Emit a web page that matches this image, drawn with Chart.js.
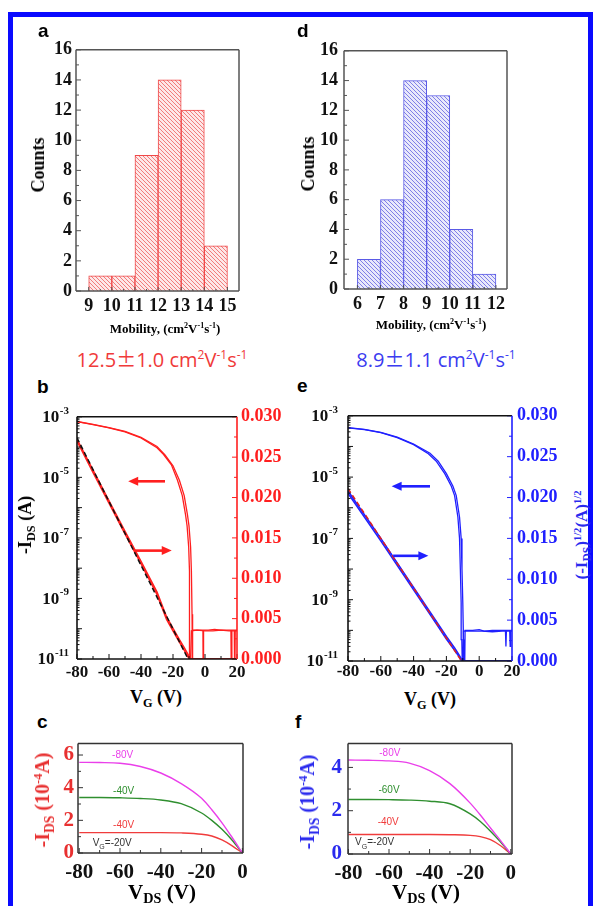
<!DOCTYPE html>
<html lang="pt">
<head>
<meta charset="utf-8">
<title>Mobilidade e curvas de transferencia</title>
<script src="https://cdn.jsdelivr.net/npm/chart.js@4.4.1/dist/chart.umd.min.js"></script>
<style>
  body { margin:0; width:595px; height:906px; position:relative; overflow:hidden; background:#fff; }
  #borda { position:absolute; left:8px; top:12px; width:575px; height:930px; border:5px solid #0a0aff; }
  canvas { position:absolute; }
  .txt { position:absolute; font-family:"Liberation Serif",serif; font-weight:bold; white-space:nowrap; line-height:1; }
  .rot { transform:translate(-50%,-50%) rotate(-90deg); }
  .cen { transform:translate(-50%,-50%); }
  .txt sub { font-size:0.68em; vertical-align:-0.35em; line-height:0; }
  .txt sup { font-size:0.62em; vertical-align:0.55em; line-height:0; }
  .letra { position:absolute; font-family:"Liberation Sans",sans-serif; font-weight:bold; font-size:19px; line-height:1; }
  .mob { position:absolute; font-family:"Open Sans",sans-serif; font-size:20px; white-space:nowrap; transform:translate(-50%,-50%); line-height:1; }
  .mob sup { font-size:0.6em; vertical-align:0.6em; line-height:0; }
  .pm { font-family:"Noto Sans CJK SC",sans-serif; }
</style>
</head>
<body>
<div id="borda"></div>

<canvas id="grafA"></canvas>
<canvas id="grafD"></canvas>
<canvas id="grafB"></canvas>
<canvas id="grafE"></canvas>
<canvas id="grafC"></canvas>
<canvas id="grafF"></canvas>

<div class="letra" style="left:38px;top:21px">a</div>
<div class="letra" style="left:297px;top:21px">d</div>
<div class="letra" style="left:37px;top:377px">b</div>
<div class="letra" style="left:297px;top:376px">e</div>
<div class="letra" style="left:37px;top:712px">c</div>
<div class="letra" style="left:295px;top:712px">f</div>

<div class="txt rot" style="left:38px;top:165px;font-size:18px">Counts</div>
<div class="txt cen" style="left:165px;top:328px;font-size:13px">Mobility, (cm<sup>2</sup>V<sup>-1</sup>s<sup>-1</sup>)</div>
<div class="txt rot" style="left:308px;top:164px;font-size:18px">Counts</div>
<div class="txt cen" style="left:431px;top:324px;font-size:13px">Mobility, (cm<sup>2</sup>V<sup>-1</sup>s<sup>-1</sup>)</div>

<div class="mob" style="left:162px;top:359px;color:#f03a3a">12.5<span class="pm">±</span>1.0 cm<sup>2</sup>V<sup>-1</sup>s<sup>-1</sup></div>
<div class="mob" style="left:436px;top:359px;color:#3b3bf0">8.9<span class="pm">±</span>1.1 cm<sup>2</sup>V<sup>-1</sup>s<sup>-1</sup></div>

<div class="txt rot" style="left:25px;top:525px;font-size:18px">-I<sub>DS</sub> (A)</div>
<div class="txt cen" style="left:156px;top:697px;font-size:18px">V<sub>G</sub> (V)</div>
<div class="txt rot" style="left:581px;top:535px;font-size:17px;color:#2a2aee">(-I<sub>DS</sub>)<sup>1/2</sup>(A)<sup>1/2</sup></div>
<div class="txt cen" style="left:430px;top:699px;font-size:18px">V<sub>G</sub> (V)</div>

<div class="txt rot" style="left:42px;top:800px;font-size:20px;color:#e83030">-I<sub>DS</sub> (10<sup>-4</sup>A)</div>
<div class="txt cen" style="left:162px;top:892px;font-size:21px">V<sub>DS</sub> (V)</div>
<div class="txt rot" style="left:307px;top:802px;font-size:20px;color:#2a2aee">-I<sub>DS</sub> (10<sup>-4</sup>A)</div>
<div class="txt cen" style="left:426px;top:892px;font-size:21px">V<sub>DS</sub> (V)</div>

<script>
// ---- histogramas (a e d) ----
const ticksXA = [9, 10, 11, 12, 13, 14, 15];
const binsA = [9, 10, 11, 12, 13, 14];
const contagensA = [1, 1, 9, 14, 12, 3];

const ticksXD = [6, 7, 8, 9, 10, 11, 12];
const binsD = [6, 7, 8, 9, 10, 11];
const contagensD = [2, 6, 14, 13, 4, 1];

// ---- curvas de transferencia (b, vermelho) ----
const vgB_ida = [-80, -70, -60, -50, -40, -30, -25, -20, -16, -13, -11, -10, -9, -8.5, -8.1, -7.9, -7.6, -5, -2, -1.3, -1.1, -0.9, 2, 6, 10, 14, 16.2, 16.5, 16.8, 18.3, 18.6, 18.9, 20];
const idsB_ida = [7.0e-4, 5.6e-4, 4.4e-4, 3.3e-4, 2.1e-4, 1.05e-4, 5.5e-5, 2.4e-5, 8e-6, 2.5e-6, 6e-7, 2.5e-7, 5e-8, 8e-9, 3e-10, 1e-12, 9e-11, 9e-11, 9e-11, 9e-11, 1e-12, 9e-11, 9e-11, 9.5e-11, 9e-11, 9e-11, 9e-11, 1e-12, 9e-11, 9e-11, 1e-12, 9e-11, 9e-11];
const vgB_volta = [20, 15, 10, 5, 0, -5, -8.5, -9.4, -9.7, -10.2, -11.2, -12.2, -14.2, -17.2, -21, -26, -30, -40, -50, -60, -70, -80];
const idsB_volta = [8.5e-11, 8.5e-11, 9e-11, 8.5e-11, 8.5e-11, 9e-11, 8.5e-11, 1e-12, 8e-9, 5e-8, 2.5e-7, 6e-7, 2.5e-6, 8e-6, 2.6e-5, 5.8e-5, 9.5e-5, 2.0e-4, 3.2e-4, 4.3e-4, 5.5e-4, 6.9e-4];
const vgB_raiz = [-80, -70, -60, -50, -40, -30, -24, -20, -16, -13, -11, -10, -9.3, -8, 20];
const raizB_ida = [0.0272, 0.0234, 0.0196, 0.0158, 0.0121, 0.0083, 0.0052, 0.0038, 0.0024, 0.0014, 0.0007, 0.0003, 0, 0, 0];
const raizB_volta = [0.0270, 0.0231, 0.0193, 0.0155, 0.0118, 0.0080, 0.0049, 0.0035, 0.0021, 0.0011, 0.0004, 0.0001, 0, 0, 0];
const vgB_ajuste = [-80, -10.6];
const raizB_ajuste = [0.0274, 0];

// ---- curvas de transferencia (e, azul) ----
const vgE_ida = [-80, -70, -60, -50, -40, -30, -25, -20, -16, -14, -12, -11, -10.5, -10, -9.6, -9.3, -9, -8.6, -4, 0, 3, 8, 12, 16, 16.3, 16.6, 18.6, 18.9, 19.2, 20];
const idsE_ida = [4.1e-4, 3.6e-4, 2.9e-4, 2.0e-4, 1.2e-4, 6e-5, 3.3e-5, 1.3e-5, 5e-6, 2.5e-6, 5e-7, 1e-7, 1e-8, 8e-10, 5e-11, 1e-12, 1e-12, 1e-10, 1e-10, 1.05e-10, 9.5e-11, 1e-10, 1e-10, 1e-10, 3e-11, 1e-10, 1e-10, 3e-11, 1e-10, 1e-10];
const vgE_volta = [20, 14, 8, 2, -4, -9.6, -10, -10.6, -11, -11.5, -12, -13, -15, -17, -21, -26, -31, -40, -50, -60, -70, -80];
const idsE_volta = [9.5e-11, 9.5e-11, 9e-11, 9.5e-11, 9.5e-11, 9.5e-11, 1e-12, 5e-11, 8e-10, 1e-8, 1e-7, 5e-7, 2.5e-6, 5e-6, 1.3e-5, 3.2e-5, 5.8e-5, 1.15e-4, 1.95e-4, 2.85e-4, 3.55e-4, 4.05e-4];
const vgE_raiz = [-80, -70, -60, -50, -40, -30, -25, -20, -15, -12.5, -11, -10.3, 20];
const raizE_ida = [0.0208, 0.0179, 0.0150, 0.0120, 0.0090, 0.0060, 0.0045, 0.0030, 0.0016, 0.0008, 0.0003, 0, 0];
const raizE_volta = [0.0205, 0.0176, 0.0147, 0.0117, 0.0087, 0.0057, 0.0042, 0.0027, 0.0013, 0.0006, 0.0001, 0, 0];
const vgE_ajuste = [-80, -10.8];
const raizE_ajuste = [0.0211, 0];

// ---- curvas de saida (c e f) ----
const vdsSaida = [-80, -70, -60, -50, -40, -30, -20, -15, -10, -5, 0];
const saidaC_80 = [5.55, 5.54, 5.50, 5.30, 4.90, 4.25, 3.35, 2.65, 1.85, 0.95, 0];
const saidaC_verde = [3.40, 3.40, 3.38, 3.34, 3.25, 3.02, 2.45, 2.00, 1.45, 0.78, 0];
const saidaC_40 = [1.25, 1.25, 1.25, 1.25, 1.25, 1.23, 1.15, 1.04, 0.80, 0.44, 0];
const saidaF_80 = [4.34, 4.33, 4.30, 4.20, 3.85, 3.25, 2.35, 1.80, 1.20, 0.62, 0];
const saidaF_60 = [2.52, 2.52, 2.51, 2.49, 2.44, 2.32, 1.85, 1.50, 1.05, 0.55, 0];
const saidaF_40 = [0.90, 0.90, 0.90, 0.90, 0.90, 0.89, 0.86, 0.80, 0.66, 0.38, 0];

const ticksVG = [-80, -60, -40, -20, 0, 20];
const ticksVDS = [-80, -60, -40, -20, 0];
const ticksYC = [0, 2, 4, 6];
const ticksYF = [0, 2, 4];

Chart.defaults.font.family = '"Liberation Serif", serif';
Chart.defaults.font.weight = 'bold';
Chart.defaults.color = '#111';

function juntar(xs, ys) {
  return xs.map((x, i) => ({ x: x, y: ys[i] }));
}

function prepararCanvas(id, area, m) {
  const cv = document.getElementById(id);
  cv.width = area[2] - area[0] + m.l + m.r;
  cv.height = area[3] - area[1] + m.t + m.b;
  cv.style.left = (area[0] - m.l) + 'px';
  cv.style.top = (area[1] - m.t) + 'px';
  return cv;
}

function hachura(ctx, fundo, traco) {
  const t = document.createElement('canvas');
  t.width = 4; t.height = 4;
  const c = t.getContext('2d');
  c.fillStyle = fundo;
  c.fillRect(0, 0, 4, 4);
  c.strokeStyle = traco;
  c.lineWidth = 0.9;
  for (const k of [-4, 0, 4]) {
    c.beginPath(); c.moveTo(k, 0); c.lineTo(k + 4, 4); c.stroke();
  }
  return ctx.createPattern(t, 'repeat');
}

const semGrade = { display: false, drawTicks: false };

// moldura, marcas para dentro, rotulos de log, setas e nomes das curvas
const pluginEixos = {
  id: 'eixos',
  afterDatasetsDraw(chart, args, op) {
    const ctx = chart.ctx, a = chart.chartArea;
    ctx.save();
    ctx.lineWidth = 1;
    for (const id in op.marcas) {
      const m = op.marcas[id], s = chart.scales[id];
      const maiores = s.ticks.map(t => t.value);
      const menores = [];
      if (s.type === 'logarithmic') {
        for (let e = Math.round(Math.log10(s.min)); e < Math.round(Math.log10(s.max)); e++)
          for (let k = 2; k < 10; k++) menores.push(k * Math.pow(10, e));
      } else {
        for (let i = 0; i < maiores.length - 1; i++) menores.push((maiores[i] + maiores[i + 1]) / 2);
      }
      ctx.strokeStyle = op.cores[s.position] || op.cor;
      const desenha = (v, tam) => {
        const p = s.getPixelForValue(v);
        ctx.beginPath();
        if (s.position === 'left') { ctx.moveTo(a.left, p); ctx.lineTo(a.left + tam, p); }
        else if (s.position === 'right') { ctx.moveTo(a.right, p); ctx.lineTo(a.right - tam, p); }
        else { ctx.moveTo(p, a.bottom); ctx.lineTo(p, a.bottom - tam); }
        ctx.stroke();
      };
      maiores.forEach(v => desenha(v, m.maior));
      menores.forEach(v => desenha(v, m.menor));
    }

    ctx.lineWidth = op.espessura;
    const lados = {
      top: [a.left, a.top, a.right, a.top],
      bottom: [a.left, a.bottom, a.right, a.bottom],
      left: [a.left, a.top, a.left, a.bottom],
      right: [a.right, a.top, a.right, a.bottom]
    };
    for (const lado in lados) {
      const [x1, y1, x2, y2] = lados[lado];
      ctx.strokeStyle = op.cores[lado] || op.cor;
      ctx.beginPath(); ctx.moveTo(x1, y1); ctx.lineTo(x2, y2); ctx.stroke();
    }

    if (op.rotulosLog) {
      const s = chart.scales.y;
      ctx.fillStyle = '#111';
      ctx.textAlign = 'right';
      ctx.textBaseline = 'middle';
      for (const e of op.rotulosLog.expoentes) {
        const p = s.getPixelForValue(Math.pow(10, e));
        ctx.font = 'bold 11px "Liberation Serif"';
        const w = ctx.measureText(String(e)).width;
        ctx.fillText(String(e), a.left - op.rotulosLog.folga, p - 6);
        ctx.font = 'bold 17px "Liberation Serif"';
        ctx.fillText('10', a.left - op.rotulosLog.folga - w - 0.5, p + 1);
      }
    }

    if (op.setas) {
      const sx = chart.scales.x, sy = chart.scales.y;
      ctx.strokeStyle = op.corSeta;
      ctx.fillStyle = op.corSeta;
      ctx.lineWidth = 2.6;
      for (const st of op.setas) {
        const x1 = sx.getPixelForValue(st.de[0]), y1 = sy.getPixelForValue(st.de[1]);
        const x2 = sx.getPixelForValue(st.para[0]), y2 = sy.getPixelForValue(st.para[1]);
        const dir = Math.sign(x2 - x1);
        ctx.beginPath(); ctx.moveTo(x1, y1); ctx.lineTo(x2 - dir * 7, y2); ctx.stroke();
        ctx.beginPath();
        ctx.moveTo(x2, y2); ctx.lineTo(x2 - dir * 10, y2 - 4.5); ctx.lineTo(x2 - dir * 10, y2 + 4.5);
        ctx.closePath(); ctx.fill();
      }
    }

    if (op.nomes) {
      const sx = chart.scales.x, sy = chart.scales.y;
      ctx.textBaseline = 'middle';
      for (const n of op.nomes) {
        let x = sx.getPixelForValue(n.x);
        const y = sy.getPixelForValue(n.y);
        ctx.fillStyle = n.cor;
        if (n.partes) {
          ctx.textAlign = 'left';
          for (const pt of n.partes) {
            ctx.font = (pt.sub ? '7px' : '10px') + ' "Liberation Sans"';
            ctx.fillText(pt.t, x, pt.sub ? y + 4 : y);
            x += ctx.measureText(pt.t).width;
          }
        } else {
          ctx.textAlign = 'center';
          ctx.font = '10px "Liberation Sans"';
          ctx.fillText(n.texto, x, y);
        }
      }
    }
    ctx.restore();
  }
};

function fixarEixos(scales, m) {
  scales.x.afterFit = s => { s.height = m.b; };
  scales.y.afterFit = s => { s.width = m.l; };
  if (scales.y2) scales.y2.afterFit = s => { s.width = m.r; };
  return scales;
}

function histograma(id, area, m, bins, contagens, ticksX, limites, fundo, traco, borda, padY) {
  const cv = prepararCanvas(id, area, m);
  const ctx = cv.getContext('2d');
  new Chart(ctx, {
    type: 'bar',
    data: {
      datasets: [{
        data: juntar(bins.map(b => b + 0.5), contagens),
        backgroundColor: hachura(ctx, fundo, traco),
        borderColor: borda,
        borderWidth: 1,
        barPercentage: 1,
        categoryPercentage: 1
      }]
    },
    options: {
      responsive: false,
      animation: false,
      layout: { padding: { top: m.t, right: m.r, left: 0, bottom: 0 } },
      plugins: {
        legend: { display: false },
        tooltip: { enabled: false },
        eixos: { cor: '#555', cores: {}, espessura: 1.5, marcas: { x: { maior: 4, menor: 2 }, y: { maior: 5, menor: 3 } } }
      },
      scales: fixarEixos({
        x: {
          type: 'linear', min: limites[0], max: limites[1], offset: false,
          afterBuildTicks: s => { s.ticks = ticksX.map(v => ({ value: v })); },
          grid: semGrade, border: { display: false },
          ticks: { font: { size: 18 }, padding: 5, autoSkip: false, maxRotation: 0 }
        },
        y: {
          min: 0, max: 16,
          grid: semGrade, border: { display: false },
          ticks: { stepSize: 2, font: { size: 18 }, padding: padY }
        }
      }, m)
    },
    plugins: [pluginEixos]
  });
}

histograma('grafA', [76, 49, 239, 291], { l: 34, r: 10, t: 14, b: 30 }, binsA, contagensA, ticksXA, [8.45, 15.5],
  '#fde8e8', 'rgba(238,90,90,0.85)', '#f04848', 4);
histograma('grafD', [344, 48, 507, 289], { l: 34, r: 10, t: 14, b: 30 }, binsD, contagensD, ticksXD, [5.42, 12.48],
  '#e9e9fb', 'rgba(95,95,225,0.85)', '#5a5ae6', 6);

function transferencia(id, area, m, cor, corAjuste, series, setas, folgaLog, padX, padY2) {
  const cv = prepararCanvas(id, area, m);
  const ctx = cv.getContext('2d');
  const ds = [
    { data: juntar(series.vgAjuste, series.ajuste), yAxisID: 'y2', borderColor: corAjuste, borderDash: [5, 3], borderWidth: 1.5 },
    { data: juntar(series.vgRaiz, series.raizIda), yAxisID: 'y2', borderColor: cor, borderWidth: 1.6 },
    { data: juntar(series.vgRaiz, series.raizVolta), yAxisID: 'y2', borderColor: cor, borderWidth: 1.6 },
    { data: juntar(series.vgIda, series.ida), yAxisID: 'y', borderColor: cor, borderWidth: 1.3 },
    { data: juntar(series.vgVolta, series.volta), yAxisID: 'y', borderColor: cor, borderWidth: 1.3 }
  ];
  ds.forEach(d => { d.pointRadius = 0; d.fill = false; d.tension = 0; });
  new Chart(ctx, {
    type: 'line',
    data: { datasets: ds },
    options: {
      responsive: false,
      animation: false,
      layout: { padding: { top: m.t, right: 0, left: 0, bottom: 0 } },
      plugins: {
        legend: { display: false },
        tooltip: { enabled: false },
        eixos: {
          cor: '#111', cores: { right: cor }, espessura: 1.6,
          marcas: { x: { maior: 5, menor: 3 }, y: { maior: 5, menor: 2.5 }, y2: { maior: 5, menor: 3 } },
          rotulosLog: { expoentes: [-3, -5, -7, -9, -11], folga: folgaLog },
          setas: setas, corSeta: cor
        }
      },
      scales: fixarEixos({
        x: {
          type: 'linear', min: -80, max: 20,
          afterBuildTicks: s => { s.ticks = ticksVG.map(v => ({ value: v })); },
          grid: semGrade, border: { display: false },
          ticks: { font: { size: 17 }, padding: padX, autoSkip: false, maxRotation: 0 }
        },
        y: {
          type: 'logarithmic', position: 'left', min: 1e-11, max: 1e-3,
          afterBuildTicks: s => { s.ticks = [-11, -10, -9, -8, -7, -6, -5, -4, -3].map(e => ({ value: Math.pow(10, e) })); },
          grid: semGrade, border: { display: false },
          ticks: { display: false }
        },
        y2: {
          type: 'linear', position: 'right', min: 0, max: 0.03,
          grid: semGrade, border: { display: false },
          ticks: { stepSize: 0.005, color: cor, font: { size: 18 }, padding: padY2, callback: v => v.toFixed(3) }
        }
      }, m)
    },
    plugins: [pluginEixos]
  });
}

transferencia('grafB', [77, 416, 237, 659], { l: 45, r: 55, t: 14, b: 25 }, '#ff1f1f', '#111', {
  vgIda: vgB_ida, ida: idsB_ida, vgVolta: vgB_volta, volta: idsB_volta,
  vgRaiz: vgB_raiz, raizIda: raizB_ida, raizVolta: raizB_volta,
  vgAjuste: vgB_ajuste, ajuste: raizB_ajuste
}, [
  { de: [-25, 7.4e-6], para: [-48, 7.4e-6] },
  { de: [-43.7, 3.8e-8], para: [-20.8, 3.8e-8] }
], 8, 3, 4);

transferencia('grafE', [348, 414, 512, 661], { l: 45, r: 55, t: 14, b: 25 }, '#2020ff', '#e02020', {
  vgIda: vgE_ida, ida: idsE_ida, vgVolta: vgE_volta, volta: idsE_volta,
  vgRaiz: vgE_raiz, raizIda: raizE_ida, raizVolta: raizE_volta,
  vgAjuste: vgE_ajuste, ajuste: raizE_ajuste
}, [
  { de: [-30, 5e-6], para: [-53.4, 5e-6] },
  { de: [-52.5, 2.7e-8], para: [-31, 2.7e-8] }
], 10, 0, 5);

function saida(id, area, m, ymax, ticksY, corY, padY, curvas, nomes, limitesX) {
  const cv = prepararCanvas(id, area, m);
  const ctx = cv.getContext('2d');
  new Chart(ctx, {
    type: 'line',
    data: {
      datasets: curvas.map(c => ({
        data: juntar(vdsSaida, c.valores), borderColor: c.cor, borderWidth: 1.4,
        pointRadius: 0, fill: false, cubicInterpolationMode: 'monotone'
      }))
    },
    options: {
      responsive: false,
      animation: false,
      layout: { padding: { top: m.t, right: m.r, left: 0, bottom: 0 } },
      plugins: {
        legend: { display: false },
        tooltip: { enabled: false },
        eixos: {
          cor: '#333', cores: {}, espessura: 1.5,
          marcas: { x: { maior: 5, menor: 3 }, y: { maior: 5, menor: 3 } },
          nomes: nomes
        }
      },
      scales: fixarEixos({
        x: {
          type: 'linear', min: limitesX[0], max: limitesX[1],
          afterBuildTicks: s => { s.ticks = ticksVDS.map(v => ({ value: v })); },
          grid: semGrade, border: { display: false },
          ticks: { font: { size: 21 }, padding: 7, autoSkip: false, maxRotation: 0 }
        },
        y: {
          min: 0, max: ymax,
          afterBuildTicks: s => { s.ticks = ticksY.map(v => ({ value: v })); },
          grid: semGrade, border: { display: false },
          ticks: { color: corY, font: { size: 21 }, padding: padY }
        }
      }, m)
    },
    plugins: [pluginEixos]
  });
}

const rotuloVG = [{ t: 'V' }, { t: 'G', sub: true }, { t: '=-20V' }];

saida('grafC', [78, 739, 243, 853], { l: 30, r: 12, t: 12, b: 34 }, 6.7, ticksYC, '#e83030', 4, [
  { valores: saidaC_80, cor: '#ea3fea' },
  { valores: saidaC_verde, cor: '#2f8f2f' },
  { valores: saidaC_40, cor: '#f03c3c' }
], [
  { texto: '-80V', x: -58.7, y: 6.0, cor: '#ea3fea' },
  { texto: '-40V', x: -58.2, y: 3.79, cor: '#2f8f2f' },
  { texto: '-40V', x: -58.2, y: 1.70, cor: '#f03c3c' },
  { partes: rotuloVG, x: -73.4, y: 0.62, cor: '#333' }
], [-80.6, 0.3]);

saida('grafF', [348, 737, 512, 854], { l: 30, r: 12, t: 12, b: 34 }, 5.1, ticksYF, '#2a2aee', 6, [
  { valores: saidaF_80, cor: '#ea3fea' },
  { valores: saidaF_60, cor: '#2f8f2f' },
  { valores: saidaF_40, cor: '#f03c3c' }
], [
  { texto: '-80V', x: -59.6, y: 4.67, cor: '#ea3fea' },
  { texto: '-60V', x: -60, y: 2.96, cor: '#2f8f2f' },
  { texto: '-40V', x: -60.4, y: 1.48, cor: '#f03c3c' },
  { partes: rotuloVG, x: -76.7, y: 0.52, cor: '#333' }
], [-80.2, 0.6]);
</script>
</body>
</html>
